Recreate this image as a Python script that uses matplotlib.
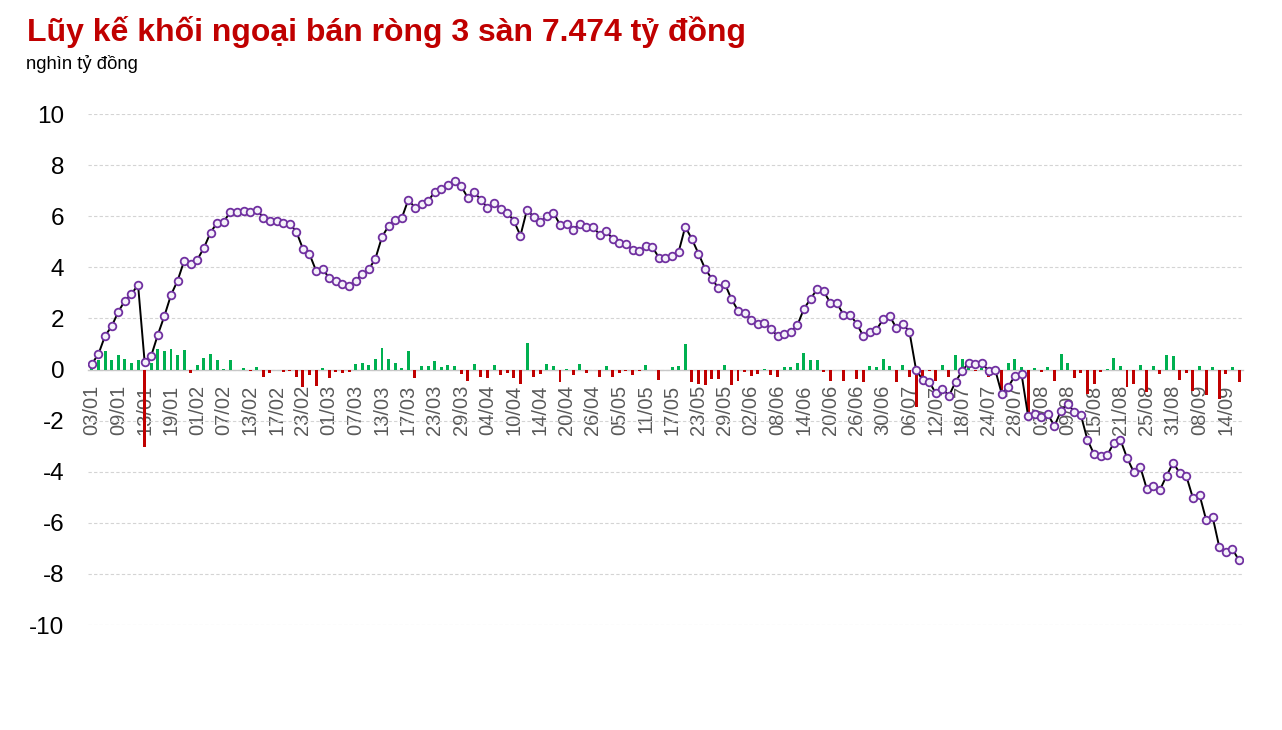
import numpy as np
import matplotlib
matplotlib.use('Agg')
import matplotlib.pyplot as plt
from matplotlib import font_manager as fm

# cumulative net foreign flow (nghìn tỷ đồng), 03/01 -> 18/09
cum_values = [
    0.22, 0.61, 1.32, 1.69, 2.26, 2.69, 2.95, 3.32, 0.29, 0.54,
    1.36, 2.10, 2.92, 3.48, 4.26, 4.13, 4.30, 4.77, 5.36, 5.75,
    5.79, 6.17, 6.17, 6.22, 6.17, 6.26, 5.95, 5.83, 5.83, 5.75,
    5.71, 5.40, 4.73, 4.52, 3.87, 3.92, 3.59, 3.48, 3.36, 3.27,
    3.48, 3.74, 3.92, 4.34, 5.19, 5.62, 5.86, 5.93, 6.65, 6.33,
    6.46, 6.60, 6.95, 7.05, 7.24, 7.36, 7.18, 6.73, 6.93, 6.65,
    6.33, 6.52, 6.29, 6.14, 5.82, 5.24, 6.26, 5.97, 5.79, 5.99,
    6.14, 5.67, 5.71, 5.48, 5.71, 5.59, 5.59, 5.28, 5.42, 5.11,
    4.97, 4.92, 4.69, 4.64, 4.82, 4.80, 4.38, 4.38, 4.46, 4.61,
    5.59, 5.11, 4.54, 3.95, 3.56, 3.20, 3.36, 2.76, 2.31, 2.21,
    1.95, 1.79, 1.82, 1.59, 1.31, 1.40, 1.48, 1.73, 2.38, 2.76,
    3.15, 3.06, 2.61, 2.59, 2.15, 2.15, 1.79, 1.31, 1.45, 1.56,
    1.96, 2.10, 1.63, 1.79, 1.48, 0.00, -0.41, -0.48, -0.93, -0.75,
    -1.03, -0.48, -0.05, 0.26, 0.21, 0.26, -0.05, 0.00, -0.95, -0.67,
    -0.25, -0.17, -1.82, -1.75, -1.86, -1.76, -2.21, -1.61, -1.33, -1.66,
    -1.78, -2.75, -3.31, -3.39, -3.35, -2.88, -2.75, -3.45, -4.00, -3.80,
    -4.67, -4.55, -4.71, -4.16, -3.65, -4.05, -4.17, -5.03, -4.90, -5.88,
    -5.78, -6.95, -7.14, -7.03, -7.474,
]

# daily net buy/sell (nghìn tỷ đồng)
daily_values = [
    0.22, 0.39, 0.71, 0.37, 0.57, 0.43, 0.26, 0.37, -3.03, 0.25,
    0.82, 0.74, 0.82, 0.56, 0.78, -0.13, 0.17, 0.47, 0.59, 0.39,
    0.04, 0.38, 0.00, 0.05, -0.05, 0.09, -0.31, -0.12, 0.00, -0.08,
    -0.04, -0.31, -0.67, -0.21, -0.65, 0.05, -0.33, -0.11, -0.12, -0.09,
    0.21, 0.26, 0.18, 0.42, 0.85, 0.43, 0.24, 0.07, 0.72, -0.32,
    0.13, 0.14, 0.35, 0.10, 0.19, 0.12, -0.18, -0.45, 0.20, -0.28,
    -0.32, 0.19, -0.23, -0.15, -0.32, -0.58, 1.02, -0.29, -0.18, 0.20,
    0.15, -0.47, 0.04, -0.23, 0.23, -0.12, 0.00, -0.31, 0.14, -0.31,
    -0.14, -0.05, -0.23, -0.05, 0.18, -0.02, -0.42, 0.00, 0.08, 0.15,
    0.98, -0.48, -0.57, -0.59, -0.39, -0.36, 0.16, -0.60, -0.45, -0.10,
    -0.26, -0.16, 0.03, -0.23, -0.28, 0.09, 0.08, 0.25, 0.65, 0.38,
    0.39, -0.09, -0.45, -0.02, -0.44, 0.00, -0.36, -0.48, 0.14, 0.11,
    0.40, 0.14, -0.47, 0.16, -0.31, -1.48, -0.30, -0.07, -0.45, 0.18,
    -0.28, 0.55, 0.43, 0.15, -0.05, 0.05, -0.31, 0.05, -0.85, 0.25,
    0.42, 0.08, -1.65, 0.07, -0.11, 0.10, -0.45, 0.60, 0.25, -0.33,
    -0.12, -0.97, -0.56, -0.08, 0.04, 0.45, 0.13, -0.70, -0.55, 0.18,
    -0.87, 0.12, -0.16, 0.55, 0.51, -0.40, -0.12, -0.86, 0.13, -0.98,
    0.10, -1.17, -0.19, 0.11, -0.50,
]

# every 4th session is labelled
tick_labels = [
    '03/01', '09/01', '13/01', '19/01', '01/02', '07/02', '13/02', '17/02',
    '23/02', '01/03', '07/03', '13/03', '17/03', '23/03', '29/03', '04/04',
    '10/04', '14/04', '20/04', '26/04', '05/05', '11/05', '17/05', '23/05',
    '29/05', '02/06', '08/06', '14/06', '20/06', '26/06', '30/06', '06/07',
    '12/07', '18/07', '24/07', '28/07', '03/08', '09/08', '15/08', '21/08',
    '25/08', '31/08', '08/09', '14/09',
]


# pick the normal-width Liberation Sans files (not the Narrow ones)
def find_font(weight):
    for f in fm.fontManager.ttflist:
        if f.name == 'Liberation Sans' and f.weight == weight and f.style == 'normal' \
                and 'Narrow' not in f.fname:
            return fm.FontProperties(fname=f.fname)
    return fm.FontProperties(family='DejaVu Sans', weight=weight)


font_reg = find_font(400)
font_bold = find_font(700)

plt.rcParams['axes.unicode_minus'] = False

x = np.arange(len(cum_values))
daily = np.array(daily_values)
bar_colors = np.where(daily >= 0, '#00B050', '#C00000')

fig = plt.figure(figsize=(12.82, 7.30), dpi=100)
ax = fig.add_axes([0.0686, 0.1438, 0.9010, 0.7000])

ax.bar(x, daily, width=0.45, color=bar_colors, zorder=2)
ax.plot(x, cum_values, color='black', lw=1.4, zorder=3,
        marker='o', markersize=5.5, markerfacecolor='#F4F1FA',
        markeredgecolor='#7030A0', markeredgewidth=1.3)

ax.set_ylim(-10, 10)
ax.set_xlim(-0.6, len(cum_values) - 0.4)
ax.set_yticks(range(-10, 11, 2))
ax.yaxis.grid(True, linestyle=(0, (3, 2)), color='#d4d4d4', lw=0.8)
ax.set_axisbelow(True)

for side in ['top', 'right', 'left']:
    ax.spines[side].set_visible(False)
ax.spines['bottom'].set_position(('data', 0))
ax.spines['bottom'].set_color('#c8c8c8')
ax.spines['bottom'].set_linewidth(1.0)
ax.spines['bottom'].set_zorder(1)

ax.set_xticks(x[::4])
ax.set_xticklabels(tick_labels, rotation=90, color='#595959')
for lbl in ax.get_xticklabels():
    lbl.set_fontproperties(font_reg)
    lbl.set_fontsize(14.5)
for lbl in ax.get_yticklabels():
    lbl.set_fontproperties(font_reg)
    lbl.set_fontsize(17.5)
ax.tick_params(axis='x', length=0, pad=11)
ax.tick_params(axis='y', length=0, pad=17, labelcolor='black')

fig.text(0.021, 0.944, 'Lũy kế khối ngoại bán ròng 3 sàn 7.474 tỷ đồng',
         fontproperties=font_bold, fontsize=23, color='#C00000',
         ha='left', va='baseline')
fig.text(0.020, 0.905, 'nghìn tỷ đồng', fontproperties=font_reg, fontsize=13.3,
         color='black', ha='left', va='baseline')

fig.savefig('out.png', dpi=100)
